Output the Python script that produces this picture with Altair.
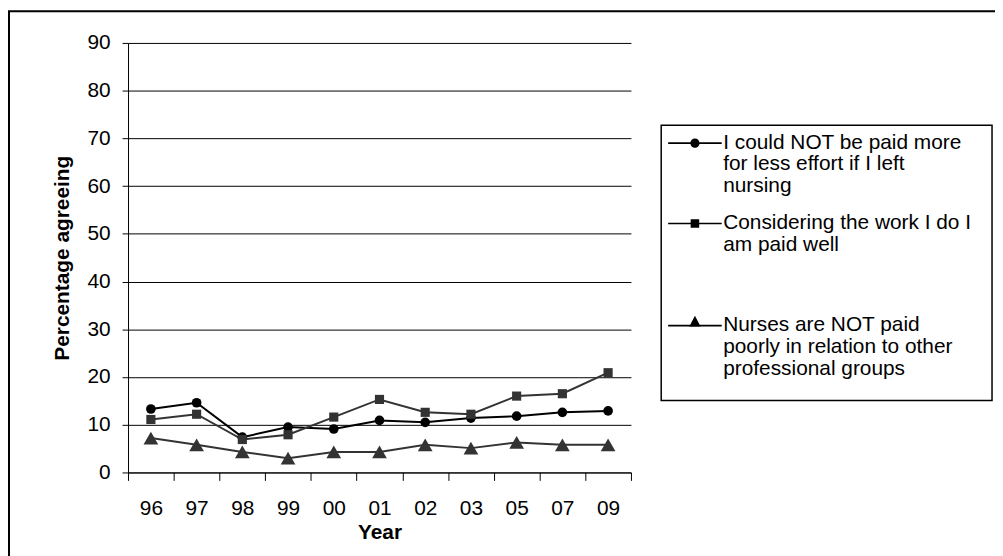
import altair as alt
import pandas as pd

years = ["96", "97", "98", "99", "00", "01", "02", "03", "05", "07", "09"]
series = [
    "I could NOT be paid more for less effort if I left nursing",
    "Considering the work I do I am paid well",
    "Nurses are NOT paid poorly in relation to other professional groups",
]
legend_lines = [
    ["I could NOT be paid more", "for less effort if I left", "nursing"],
    ["Considering the work I do I", "am paid well", "", ""],
    ["Nurses are NOT paid", "poorly in relation to other", "professional groups"],
]
paid_more = [13.3, 14.6, 7.4, 9.5, 9.1, 10.9, 10.5, 11.4, 11.8, 12.6, 12.9]
paid_well = [11.1, 12.2, 6.9, 7.9, 11.6, 15.3, 12.6, 12.2, 16.0, 16.5, 20.9]
not_poorly = [7.2, 5.8, 4.3, 3.0, 4.3, 4.3, 5.8, 5.1, 6.3, 5.8, 5.8]
y_ticks = [0, 10, 20, 30, 40, 50, 60, 70, 80, 90]

line_colors = ["#000000", "#333333", "#333333"]
point_shapes = ["circle", "square", "triangle-up"]
point_sizes = [95, 85, 220]
# legend symbols: a line with the marker on it (filled paths)
legend_shapes = [
    "M-2.7,1.07H2.7V1.23H-2.7Z"
    "M0.46,1.15A0.46,0.46,0,1,1,-0.46,1.15A0.46,0.46,0,1,1,0.46,1.15Z",
    "M-2.7,1.07H2.7V1.23H-2.7Z"
    "M-0.43,0.72H0.43V1.58H-0.43Z",
    "M-2.7,1.07H2.7V1.23H-2.7Z"
    "M0,0.15L0.58,1.27H-0.58Z",
]

rows = []
for s, vals in zip(series, [paid_more, paid_well, not_poorly]):
    for yr, v in zip(years, vals):
        rows.append({"year": yr, "series": s, "value": v})
df = pd.DataFrame(rows)

W, H = 507, 433
FONT = "Liberation Sans"

label_expr = ""
for s, lines in zip(series, legend_lines):
    arr = "[" + ",".join("'" + l + "'" for l in lines) + "]"
    label_expr += "datum.label == '" + s + "' ? " + arr + " : "
label_expr += "datum.label"

x_enc = alt.X(
    "year:N",
    sort=years,
    scale=alt.Scale(type="band", paddingInner=0, paddingOuter=0),
    axis=alt.Axis(
        title="Year", labelAngle=0, tickBand="extent", tickSize=8,
        labelPadding=17, labelFontSize=21, titleFontSize=21, titleFontWeight="bold",
        titleY=61, titleBaseline="middle", grid=False,
        domainColor="#000", tickColor="#000", labelColor="#000", titleColor="#000",
    ),
)
y_enc = alt.Y(
    "value:Q",
    scale=alt.Scale(domain=[0, 90], nice=False),
    axis=alt.Axis(
        title="Percentage agreeing", values=y_ticks, tickSize=6, labelPadding=12,
        labelFontSize=21, titleFontSize=21, titleFontWeight="bold",
        titleX=-66, titleY=H / 2, titleAlign="center", titleBaseline="middle", titleAngle=270,
        grid=True, gridColor="#000", gridWidth=1,
        domainColor="#000", tickColor="#000", labelColor="#000", titleColor="#000",
    ),
)

base = alt.Chart(df)
color_enc = alt.Color("series:N", scale=alt.Scale(domain=series, range=line_colors), legend=None)

lines = base.mark_line(strokeWidth=2).encode(
    x=x_enc, y=y_enc, color=color_enc, detail="series:N",
)
points = base.mark_point(filled=True, opacity=1).encode(
    x=x_enc, y=y_enc, color=color_enc,
    shape=alt.Shape("series:N", scale=alt.Scale(domain=series, range=point_shapes), legend=None),
    size=alt.Size("series:N", scale=alt.Scale(type="ordinal", domain=series, range=point_sizes), legend=None),
)
legend_layer = base.mark_point(filled=True, color="#000", opacity=0).encode(
    x=x_enc, y=y_enc,
    shape=alt.Shape(
        "series:N",
        scale=alt.Scale(domain=series, range=legend_shapes),
        legend=alt.Legend(
            title=None, orient="none", legendX=561, legendY=79,
            symbolSize=400, symbolOpacity=1, symbolStrokeWidth=0,
            labelExpr=label_expr, labelFont=FONT, labelFontSize=21, labelColor="#000",
            labelLimit=500, labelOffset=18, labelBaseline="top", rowPadding=5, padding=0,
        ),
    ),
)

frame = alt.Chart(alt.Data(values=[{"k": 0}])).mark_rect(
    filled=False, stroke="#000", strokeWidth=2
).encode(x=alt.value(-120), x2=alt.value(2000), y=alt.value(-32), y2=alt.value(2000))

legend_box = alt.Chart(alt.Data(values=[{"k": 0}])).mark_rect(
    filled=False, stroke="#000", strokeWidth=1.5
).encode(x=alt.value(537.5), x2=alt.value(871), y=alt.value(83), y2=alt.value(360.5))

chart = (
    alt.layer(frame, lines, points, legend_layer, legend_box)
    .resolve_scale(shape="independent", size="independent")
    .properties(
        width=W, height=H,
        autosize=alt.AutoSizeParams(type="none"),
        padding={"left": 121, "top": 33, "right": 367, "bottom": 82},
        background="white",
    )
    .configure(font=FONT, style={"guide-label": {"lineHeight": 22}})
    .configure_view(stroke=None)
)

chart.save("out.html", embed_options={"renderer": "svg", "actions": False})
